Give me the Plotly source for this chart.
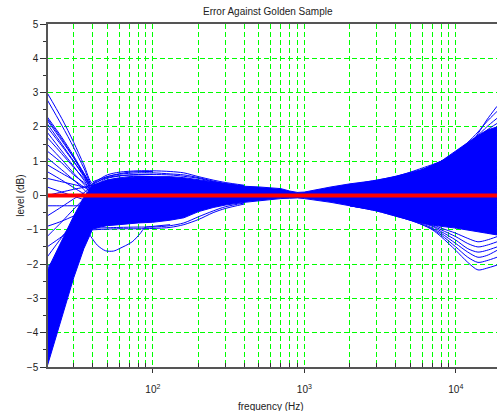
import math
import plotly.graph_objects as go

# ---------------- data ----------------
# low-frequency fan of curves (Hz, dB)
fan_freq = [20, 25, 30, 35, 40, 50, 70, 100]
fan_levels = [
    [3.00, 2.25, 1.55, 0.90, 0.35, 0.55, 0.68, 0.70],
    [2.80, 2.05, 1.40, 0.80, 0.30, 0.50, 0.60, 0.62],
    [2.30, 1.70, 1.15, 0.65, 0.25, 0.40, 0.50, 0.50],
    [2.25, 1.65, 1.10, 0.60, 0.20, 0.35, 0.45, 0.45],
    [2.20, 1.60, 1.10, 0.65, 0.30, 0.45, 0.55, 0.55],
    [2.10, 1.50, 1.00, 0.55, 0.15, 0.30, 0.40, 0.40],
    [2.00, 1.45, 0.98, 0.60, 0.25, 0.40, 0.45, 0.45],
    [1.85, 1.30, 0.85, 0.45, 0.10, 0.25, 0.30, 0.30],
    [1.70, 1.22, 0.82, 0.50, 0.20, 0.30, 0.35, 0.30],
    [1.50, 1.05, 0.65, 0.33, 0.05, 0.15, 0.20, 0.20],
    [1.30, 0.95, 0.60, 0.38, 0.15, 0.25, 0.30, 0.25],
    [1.10, 0.75, 0.45, 0.18, -0.05, 0.10, 0.15, 0.10],
    [0.90, 0.65, 0.45, 0.25, 0.10, 0.20, 0.20, 0.15],
    [0.70, 0.45, 0.23, 0.05, -0.10, 0.00, 0.05, 0.00],
    [0.50, 0.40, 0.32, 0.25, 0.20, 0.25, 0.25, 0.20],
    [0.25, 0.10, -0.02, -0.12, -0.20, -0.15, -0.10, -0.10],
    [0.00, 0.10, 0.18, 0.24, 0.30, 0.35, 0.35, 0.30],
    [-0.30, -0.30, -0.30, -0.30, -0.30, -0.25, -0.20, -0.20],
    [-0.60, -0.33, -0.10, 0.08, 0.25, 0.30, 0.30, 0.25],
    [-0.90, -0.75, -0.60, -0.50, -0.40, -0.35, -0.30, -0.30],
    [-1.20, -0.77, -0.40, -0.10, 0.15, 0.20, 0.20, 0.15],
    [-1.50, -1.20, -0.92, -0.70, -0.50, -0.45, -0.40, -0.40],
    [-1.80, -1.22, -0.75, -0.35, 0.00, 0.10, 0.10, 0.05],
    [-2.10, -1.62, -1.22, -0.90, -0.60, -0.55, -0.50, -0.50],
]

# dense core of all curves (upper / lower edge)
band_freq = [20, 25, 30, 35, 40, 45, 50, 60, 70, 80, 100, 130, 160, 200, 250,
             300, 400, 500, 600, 700, 800, 900, 1000, 1200, 1500, 2000, 2500,
             3000, 4000, 5000, 6000, 7000, 8000, 10000, 12000, 14000, 16000, 18700]
band_upper = [-2.20, -1.30, -0.60, -0.05, 0.30, 0.38, 0.45, 0.50, 0.52, 0.55, 0.55,
              0.55, 0.52, 0.46, 0.38, 0.33, 0.27, 0.25, 0.23, 0.20, 0.13, 0.09,
              0.10, 0.17, 0.25, 0.34, 0.40, 0.44, 0.56, 0.66, 0.76, 0.88, 1.00,
              1.30, 1.55, 1.75, 1.90, 2.00]
band_lower = [-5.00, -3.55, -2.40, -1.55, -0.98, -0.92, -0.88, -0.85, -0.82, -0.80,
              -0.78, -0.72, -0.65, -0.47, -0.35, -0.28, -0.20, -0.15, -0.12, -0.09,
              -0.08, -0.07, -0.09, -0.13, -0.20, -0.30, -0.37, -0.42, -0.58, -0.72,
              -0.80, -0.85, -0.90, -0.95, -1.00, -1.05, -1.10, -1.15]

# individual outlier curves in the mid band
mid_freq = [40, 50, 60, 80, 100, 130, 160, 200, 250, 300, 400]
mid_levels = [
    [0.35, 0.60, 0.68, 0.72, 0.72, 0.70, 0.66, 0.55, 0.45, 0.38, 0.30],
    [0.40, 0.55, 0.62, 0.66, 0.66, 0.63, 0.60, 0.52, 0.42, 0.35, 0.28],
    [0.35, 0.52, 0.58, 0.60, 0.61, 0.60, 0.56, 0.50, 0.40, 0.33, 0.27],
    [-1.00, -0.98, -0.97, -0.97, -0.96, -0.93, -0.85, -0.70, -0.50, -0.38, -0.25],
    [-0.95, -0.94, -0.93, -0.92, -0.92, -0.88, -0.80, -0.62, -0.45, -0.33, -0.22],
]

# the single curve with the dip near 50 Hz
dip_freq = [37, 39, 43, 48.6, 55, 60, 73, 82, 89, 100, 130]
dip_level = [-1.05, -1.20, -1.45, -1.61, -1.62, -1.55, -1.35, -1.12, -0.93, -0.90, -0.85]

# high-frequency spread of curves
hf_freq = [2000, 3000, 4000, 5000, 6000, 7000, 8000, 10000, 12000, 14000, 16000, 18700]
hf_levels = [
    [0.30, 0.42, 0.52, 0.62, 0.72, 0.82, 0.92, 1.10, 1.40, 1.80, 2.20, 2.60],
    [0.30, 0.45, 0.55, 0.68, 0.80, 0.90, 1.00, 1.25, 1.55, 1.85, 2.15, 2.45],
    [0.30, 0.40, 0.50, 0.60, 0.70, 0.80, 0.95, 1.20, 1.50, 1.75, 2.00, 2.25],
    [0.25, 0.38, 0.48, 0.58, 0.68, 0.78, 0.90, 1.15, 1.40, 1.65, 1.90, 2.10],
    [0.30, 0.40, 0.50, 0.62, 0.70, 0.80, 0.90, 1.10, 1.30, 1.50, 1.75, 2.00],
    [0.28, 0.40, 0.52, 0.63, 0.75, 0.88, 1.00, 1.20, 1.35, 1.50, 1.70, 1.85],
    [-0.30, -0.45, -0.60, -0.72, -0.85, -1.00, -1.20, -1.60, -1.95, -2.17, -2.12, -2.03],
    [-0.30, -0.45, -0.60, -0.72, -0.85, -0.98, -1.15, -1.50, -1.80, -1.95, -1.90, -1.80],
    [-0.30, -0.43, -0.58, -0.70, -0.82, -0.95, -1.10, -1.40, -1.65, -1.80, -1.75, -1.60],
    [-0.28, -0.42, -0.55, -0.68, -0.80, -0.90, -1.05, -1.30, -1.55, -1.65, -1.60, -1.50],
    [-0.28, -0.40, -0.55, -0.66, -0.78, -0.88, -1.00, -1.20, -1.40, -1.50, -1.45, -1.35],
    [-0.27, -0.40, -0.53, -0.65, -0.75, -0.85, -0.95, -1.10, -1.25, -1.35, -1.30, -1.20],
]

# golden reference (0 dB)
ref_freq = [20, 18700]
ref_level = [0, 0]

# axis ticks
x_major = [100, 1000, 10000]
x_major_text = ["10<sup>2</sup>", "10<sup>3</sup>", "10<sup>4</sup>"]
x_minor = [30, 40, 50, 60, 70, 80, 90, 200, 300, 400, 500, 600, 700, 800, 900,
           2000, 3000, 4000, 5000, 6000, 7000, 8000, 9000]
y_major = [-5, -4, -3, -2, -1, 0, 1, 2, 3, 4, 5]
y_minor = [-4.5, -3.5, -2.5, -1.5, -0.5, 0.5, 1.5, 2.5, 3.5, 4.5]

# ---------------- figure ----------------
BLUE = "#0000ff"
GREEN = "#00ff00"
FONT = "Liberation Sans"

fig = go.Figure()

fig.add_trace(go.Scatter(x=band_freq, y=band_lower, mode="lines",
                         line=dict(color=BLUE, width=1), showlegend=False,
                         hoverinfo="skip"))
fig.add_trace(go.Scatter(x=band_freq, y=band_upper, mode="lines",
                         line=dict(color=BLUE, width=1), fill="tonexty",
                         fillcolor=BLUE, showlegend=False, hoverinfo="skip"))

line_style = dict(color=BLUE, width=1, shape="spline", smoothing=0.8)
for lv in fan_levels:
    fig.add_trace(go.Scatter(x=fan_freq, y=lv, mode="lines", line=line_style,
                             showlegend=False, hoverinfo="skip"))
for lv in mid_levels:
    fig.add_trace(go.Scatter(x=mid_freq, y=lv, mode="lines", line=line_style,
                             showlegend=False, hoverinfo="skip"))
fig.add_trace(go.Scatter(x=dip_freq, y=dip_level, mode="lines", line=line_style,
                         showlegend=False, hoverinfo="skip"))
for lv in hf_levels:
    fig.add_trace(go.Scatter(x=hf_freq, y=lv, mode="lines", line=line_style,
                             showlegend=False, hoverinfo="skip"))

fig.add_trace(go.Scatter(x=ref_freq, y=ref_level, mode="lines",
                         line=dict(color="#ff0000", width=4),
                         showlegend=False, hoverinfo="skip"))

grid_dash = "5px,3px"
fig.update_xaxes(
    type="log", range=[math.log10(20.3), 4.272],
    tickvals=x_major, ticktext=x_major_text,
    ticks="outside", ticklen=4, tickcolor="#333", tickwidth=1,
    ticklabelstandoff=8,
    showgrid=True, gridcolor=GREEN, griddash=grid_dash, gridwidth=1,
    minor=dict(tickvals=x_minor, ticks="inside", ticklen=4, tickcolor="#333",
               showgrid=True, gridcolor=GREEN, griddash=grid_dash, gridwidth=1),
    showline=True, linecolor="#555", linewidth=1.5, mirror=True,
    zeroline=False,
    tickfont=dict(family=FONT, size=10, color="#222"),
)
fig.update_yaxes(
    range=[-5, 5], tickvals=y_major,
    ticks="outside", ticklen=6, tickcolor="#333", tickwidth=1,
    showgrid=True, gridcolor=GREEN, griddash=grid_dash, gridwidth=1,
    minor=dict(tickvals=y_minor, ticks="outside", ticklen=3, tickcolor="#333",
               showgrid=False),
    showline=True, linecolor="#555", linewidth=1.5, mirror=False,
    zeroline=False,
    tickfont=dict(family=FONT, size=10, color="#222"),
)

fig.update_layout(
    width=497, height=411,
    margin=dict(l=48, r=0, t=24, b=44),
    paper_bgcolor="white", plot_bgcolor="white",
    showlegend=False,
    annotations=[
        dict(text="Error Against Golden Sample", xref="paper", yref="paper",
             x=0.49, y=1.0, yshift=13, showarrow=False, xanchor="center",
             yanchor="middle", font=dict(family=FONT, size=10, color="#222")),
        dict(text="frequency (Hz)", xref="paper", yref="paper",
             x=0.497, y=-0.114, showarrow=False, xanchor="center",
             yanchor="middle", font=dict(family=FONT, size=10, color="#222")),
        dict(text="level (dB)", xref="paper", yref="paper",
             x=-0.062, y=0.5, showarrow=False, textangle=-90, xanchor="center",
             yanchor="middle", font=dict(family=FONT, size=10, color="#222")),
    ],
)

fig.write_html(
    "out.html",
    config={"displayModeBar": False},
    post_script="document.body.style.margin='0px';document.body.style.overflow='hidden';",
)
